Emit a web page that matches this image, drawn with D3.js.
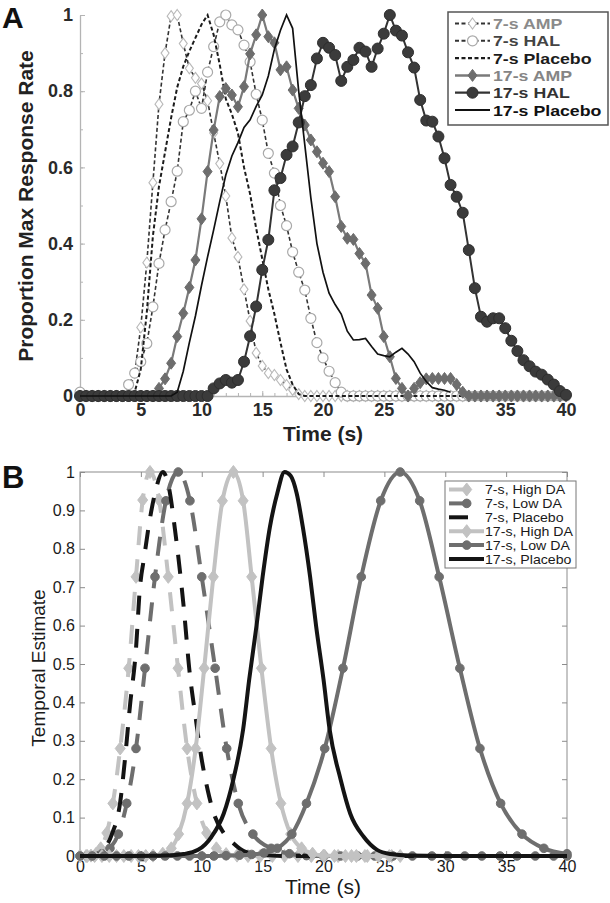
<!DOCTYPE html>
<html>
<head>
<meta charset="utf-8">
<script src="https://cdn.jsdelivr.net/npm/d3@7"></script>
<style>
body { margin: 0; background: #fff; }
</style>
</head>
<body>
<script>
// ---- panel A: observed data, 0.5-s bins ----
var binsA = d3.range(0, 40.5, 0.5);

var amp7A = [0,0,0,0,0,0,0,0,
    0.01,0.06,0.18,0.35,0.56,0.766,0.90,0.997,1.0,0.925,0.86,0.835,0.82,0.775,0.69,0.61,0.525,0.415,0.365,0.28,0.197,0.113,0.079,0.06,0.055,0.042,0.029,0.016,0.005,
    0,0,0,0,0,0,0,0,0,0,0,0,0,0,0,0,0,0,0,0,0,0,0,0,0,0,0,0,0,0,0,0,0,0,0,0,0,0,0,0,0,0,0,0];

var hal7A = [0.01,0,0,0,0,0,0,0,
    0.03,0.06,0.09,0.138,0.234,0.348,0.436,0.51,0.59,0.72,0.75,0.80,0.755,0.85,0.917,0.982,1.0,0.974,0.961,0.921,0.877,0.792,0.724,0.637,0.585,0.50,0.447,0.378,0.325,0.278,0.204,0.14,0.10,0.065,0.035,0.01,
    0,0,0,0,0,0,0,0,0,0,0,0,0,0,0,0,0,0,0,0,0,0,0,0,0,0,0,0,0,0,0,0,0,0,0,0,0];

var plc7A = [0,0,0,0,0,0,0,0,
    0,0.01,0.07,0.22,0.42,0.55,0.64,0.73,0.81,0.865,0.905,0.94,0.975,1.0,0.948,0.87,0.78,0.74,0.69,0.6,0.53,0.44,0.36,0.28,0.215,0.14,0.07,0.03,0.005,
    0,0,0,0,0,0,0,0,0,0,0,0,0,0,0,0,0,0,0,0,0,0,0,0,0,0,0,0,0,0,0,0,0,0,0,0,0,0,0,0,0,0,0,0];

var amp17A = [0,0,0,0,0,0,0,0,0,0,0,0,0,
    0.02,0.045,0.086,0.156,0.217,0.285,0.357,0.465,0.589,0.698,0.786,0.807,0.79,0.759,0.812,0.898,0.948,1.0,0.943,0.927,0.856,0.864,0.803,0.755,
    0.711,0.672,0.641,0.611,0.589,0.523,0.445,0.414,0.411,0.374,0.348,0.265,0.23,0.156,0.103,0.046,0.02,0.0,0.02,0.035,0.045,0.046,0.046,0.046,0.046,0.03,0.01,
    0,0,0,0,0,0,0,0,0,0,0,0,0,0,0,0,0];

var hal17A = [0,0,0,0,0,0,0,0,0,0,0,0,0,0,0,0,0,0,0,0,0,0,
    0.02,0.033,0.042,0.035,0.042,0.09,0.157,0.235,0.331,0.41,0.54,0.572,0.633,0.655,0.718,0.787,0.816,0.886,0.927,0.914,0.895,0.827,0.864,0.882,0.914,0.904,0.864,0.912,0.951,1.0,
    0.959,0.946,0.902,0.862,0.777,0.723,0.72,0.681,0.624,0.554,0.523,0.481,0.383,0.283,0.208,0.195,0.204,0.204,0.178,0.145,0.118,0.094,0.078,0.064,0.056,0.043,0.03,0.013,0.003];

var plc17A = [0,0,0,0,0,0,0,0,0,0,0,0,0,0,0,0,
    0.01,0.065,0.14,0.21,0.29,0.365,0.436,0.51,0.58,0.63,0.665,0.705,0.725,0.76,0.79,0.84,0.91,0.96,1.0,0.965,0.80,0.66,0.52,0.40,0.325,0.27,0.24,0.215,0.17,0.147,0.148,0.151,0.13,0.11,0.106,0.103,0.115,0.125,0.11,0.09,0.06,0.038,0.022,0.018,0.015,0.01,
    null,null,null,null,null,null,null,null,null,null,null,null,null,null,null,null,null,null,null];

var namesA = ["7-s AMP", "7-s HAL", "7-s Placebo", "17-s AMP", "17-s HAL", "17-s Placebo"];
var ticksA_y = [0, 0.2, 0.4, 0.6, 0.8, 1];
var ticksA_x = [0, 5, 10, 15, 20, 25, 30, 35, 40];

// ---- panel B: model estimates, [time, value] ----
var hi7B = [[0,0],[0.5,0],[0.9,0.001],[1.3,0.005],[1.7,0.02],[2.2,0.06],[2.7,0.137],[3.3,0.28],[4.0,0.489],[4.6,0.727],[5.15,0.927],[5.75,1],
    [6.5,0.927],[7.25,0.727],[8.05,0.489],[8.8,0.28],[9.6,0.137],[10.4,0.06],[11.2,0.02],[12.0,0.005],[12.9,0.001],[13.8,0],[14.8,0],[15.8,0],
    [16.8,0],[17.9,0],[19.0,0],[20.1,0],[21.2,0],[22.3,0],[23.4,0],[24.5,0],[25.6,0]];
var lo7B = [[0,0],[0.6,0],[1.2,0.001],[1.8,0.006],[2.46,0.02],[3.15,0.057],[3.84,0.137],[4.6,0.28],[5.34,0.489],[6.16,0.727],[7.06,0.925],[8.07,1],
    [9.03,0.925],[10.0,0.727],[11.1,0.489],[12.05,0.28],[13.0,0.137],[14.2,0.057],[15.7,0.02],[17.2,0.006],[18.6,0.001],[20.0,0],[21.4,0],[22.8,0],
    [24.2,0],[25.7,0],[27.3,0],[28.9,0],[30.2,0],[31.6,0],[33.0,0],[34.5,0],[35.9,0],[37.4,0],[38.9,0],[40,0]];
var plc7B = [[0,0],[1,0.002],[1.6,0.01],[2.6,0.055],[3.3,0.14],[3.7,0.254],[4.1,0.39],[4.6,0.54],[4.9,0.69],[5.3,0.784],[5.7,0.87],[6.2,0.95],[6.8,1.0],
    [7.3,0.96],[7.8,0.85],[8.5,0.654],[9.0,0.48],[9.5,0.36],[9.9,0.27],[10.5,0.17],[11.0,0.11],[11.8,0.06],[12.6,0.033],[13.5,0.012],[15,0.003],[17,0],[40,0]];
var hi17B = [[0,0],[0.6,0],[1.2,0],[1.8,0],[2.4,0],[3.0,0],[3.6,0],[4.2,0],[4.8,0],[5.4,0],[6.0,0.001],[6.8,0.006],[7.5,0.02],[8.1,0.057],[8.8,0.137],
    [9.5,0.28],[10.2,0.489],[10.95,0.727],[11.7,0.925],[12.6,1],[13.4,0.925],[14.1,0.727],[14.9,0.489],[15.7,0.28],[16.5,0.137],[17.3,0.057],[18.2,0.02],
    [19.1,0.006],[20.0,0.001],[20.9,0],[21.8,0],[22.7,0],[23.6,0],[24.5,0],[25.4,0],[26.3,0]];
var lo17B = [[0,0],[1,0],[2,0],[3,0],[4,0],[5,0],[6,0],[7,0],[8,0],[9,0],[10,0],[11,0],[12,0.001],[13.1,0.002],[14.1,0.004],[15.1,0.008],[16.2,0.02],
    [17.4,0.057],[18.6,0.137],[20.1,0.28],[21.6,0.489],[23.1,0.727],[24.7,0.925],[26.3,1],[27.9,0.925],[29.5,0.727],[31.2,0.489],[32.85,0.28],[34.55,0.137],
    [36.3,0.057],[38.1,0.02],[40,0.006]];
var plc17B = [[0,0],[4,0],[6,0.0005],[7,0.001],[8.5,0.005],[9.7,0.016],[10.8,0.05],[11.8,0.11],[12.6,0.2],[13.4,0.33],[13.9,0.46],[14.5,0.6],[15.0,0.727],
    [15.6,0.857],[16.2,0.944],[16.8,1],[17.3,0.99],[17.8,0.944],[18.3,0.857],[18.9,0.727],[19.4,0.597],[20.0,0.46],[20.5,0.33],[21.4,0.2],[22.2,0.11],
    [23.3,0.05],[24.4,0.016],[25.5,0.005],[27,0.001],[30,0],[40,0]];

var namesB = ["7-s, High DA", "7-s, Low DA", "7-s, Placebo", "17-s, High DA", "17-s, Low DA", "17-s, Placebo"];
var ticksB_y = [0, 0.1, 0.2, 0.3, 0.4, 0.5, 0.6, 0.7, 0.8, 0.9, 1];
var ticksB_x = [0, 5, 10, 15, 20, 25, 30, 35, 40];

var font = "'Liberation Sans', Arial, Helvetica, sans-serif";

var svg = d3.select("body").append("svg")
    .attr("width", 610)
    .attr("height", 903)
    .style("font-family", font);

function diamond(w, h) {
    return "M0," + (-h) + "L" + w + ",0L0," + h + "L" + (-w) + ",0Z";
}

function drawMarkers(g, pts, s) {
    if (s.marker == "diamond") {
        g.selectAll(null).data(pts).enter().append("path")
            .attr("d", diamond(s.mw, s.mh))
            .attr("transform", function (d) { return "translate(" + d[0] + "," + d[1] + ")"; })
            .attr("fill", s.mfill)
            .attr("stroke", s.mstroke)
            .attr("stroke-width", s.msw);
    } else if (s.marker == "circle") {
        g.selectAll(null).data(pts).enter().append("circle")
            .attr("cx", function (d) { return d[0]; })
            .attr("cy", function (d) { return d[1]; })
            .attr("r", s.r)
            .attr("fill", s.mfill)
            .attr("stroke", s.mstroke)
            .attr("stroke-width", s.msw);
    }
}

// =================== PANEL A ===================
var xA = d3.scaleLinear().domain([0, 40]).range([80, 566]);
var yA = d3.scaleLinear().domain([0, 1]).range([396, 15]);

var gA = svg.append("g");

var axisCol = "#b4b4b4";

// minor ticks
gA.append("g").attr("transform", "translate(80,0)")
    .call(d3.axisLeft(yA).tickValues(d3.range(0, 1.01, 0.1)).tickSize(-3).tickFormat(""))
    .call(function (g) { g.selectAll("line").attr("stroke", axisCol); g.select(".domain").remove(); });
gA.append("g").attr("transform", "translate(0,396)")
    .call(d3.axisBottom(xA).tickValues(d3.range(0, 41, 1)).tickSize(-3).tickFormat(""))
    .call(function (g) { g.selectAll("line").attr("stroke", axisCol); g.select(".domain").remove(); });

gA.append("g").attr("transform", "translate(80,0)")
    .call(d3.axisLeft(yA).tickValues(ticksA_y).tickSizeInner(-5).tickSizeOuter(0).tickPadding(7)
        .tickFormat(function (d) { return d; }))
    .call(function (g) {
        g.select(".domain").attr("stroke", axisCol).attr("stroke-width", 1.3);
        g.selectAll("line").attr("stroke", axisCol);
        g.selectAll("text").attr("font-family", font).attr("font-size", 18).attr("font-weight", "bold").attr("fill", "#2a2a2a");
    });

gA.append("g").attr("transform", "translate(0,396)")
    .call(d3.axisBottom(xA).tickValues(ticksA_x).tickSizeInner(-5).tickSizeOuter(0).tickPadding(7))
    .call(function (g) {
        g.select(".domain").attr("stroke", axisCol).attr("stroke-width", 1.3);
        g.selectAll("line").attr("stroke", axisCol);
        g.selectAll("text").attr("font-family", font).attr("font-size", 18).attr("font-weight", "bold").attr("fill", "#2a2a2a");
    });

var stylesA = [
    { vals: amp7A, color: "#333", width: 1.6, dash: "4,2.5", marker: "diamond", mw: 4, mh: 5.5, mfill: "#fff", mstroke: "#b9b9b9", msw: 1.1, text: "#8a8a8a" },
    { vals: hal7A, color: "#333", width: 1.6, dash: "4,2.5", marker: "circle", r: 5, mfill: "#fff", mstroke: "#a9a9a9", msw: 1.2, text: "#444" },
    { vals: plc7A, color: "#1c1c1c", width: 2, dash: "4,2.5", marker: null, text: "#1c1c1c" },
    { vals: amp17A, color: "#7a7a7a", width: 2.2, dash: null, marker: "diamond", mw: 4.5, mh: 6, mfill: "#6d6d6d", mstroke: "#6d6d6d", msw: 1, text: "#858585" },
    { vals: hal17A, color: "#333", width: 2, dash: null, marker: "circle", r: 5.5, mfill: "#3b3b3b", mstroke: "#2e2e2e", msw: 1, text: "#333" },
    { vals: plc17A, color: "#111", width: 1.7, dash: null, marker: null, text: "#111" }
];

var lineA = d3.line()
    .defined(function (d) { return d[1] != null; })
    .x(function (d) { return xA(d[0]); })
    .y(function (d) { return yA(d[1]); });

stylesA.forEach(function (s) {
    var data = binsA.map(function (t, i) { return [t, s.vals[i]]; });
    var g = gA.append("g");
    g.append("path")
        .datum(data)
        .attr("d", lineA)
        .attr("fill", "none")
        .attr("stroke", s.color)
        .attr("stroke-width", s.width)
        .attr("stroke-dasharray", s.dash);
    var pts = data.filter(function (d) { return d[1] != null; })
        .map(function (d) { return [xA(d[0]), yA(d[1])]; });
    drawMarkers(g, pts, s);
});

// labels
svg.append("text").text("A")
    .attr("x", 2).attr("y", 28)
    .attr("font-size", 30).attr("font-weight", "bold").attr("fill", "#111");

svg.append("text").text("Time (s)")
    .attr("x", 323).attr("y", 441)
    .attr("text-anchor", "middle")
    .attr("font-size", 21).attr("font-weight", "bold").attr("fill", "#222");

svg.append("text").text("Proportion Max Response Rate")
    .attr("transform", "translate(33,206) rotate(-90)")
    .attr("text-anchor", "middle")
    .attr("font-size", 21).attr("font-weight", "bold").attr("fill", "#222");

// legend A (text is slightly wide in the original, hence the x stretch)
var legA = svg.append("g");
legA.append("rect")
    .attr("x", 448).attr("y", 12).attr("width", 160).attr("height", 113)
    .attr("fill", "#fff").attr("stroke", "#555").attr("stroke-width", 1.5);

var legYA = [23.5, 40.8, 58.1, 75.4, 92.7, 110];
stylesA.forEach(function (s, i) {
    var y = legYA[i];
    var g = legA.append("g");
    g.append("line")
        .attr("x1", 455).attr("x2", 490).attr("y1", y).attr("y2", y)
        .attr("stroke", s.color).attr("stroke-width", s.width + 0.3)
        .attr("stroke-dasharray", s.dash);
    drawMarkers(g, [[472.5, y]], s);
    legA.append("g")
        .attr("transform", "translate(493," + (y + 5.5) + ") scale(1.16,1)")
        .append("text").text(namesA[i])
        .attr("font-size", 15.3).attr("font-weight", "bold").attr("fill", s.text);
});

// =================== PANEL B ===================
var xB = d3.scaleLinear().domain([0, 40]).range([80, 567]);
var yB = d3.scaleLinear().domain([0, 1]).range([856, 472]);

var gB = svg.append("g");
var boxCol = "#8c8c8c";

gB.append("rect")
    .attr("x", 80).attr("y", 472).attr("width", 487).attr("height", 384)
    .attr("fill", "none").attr("stroke", boxCol).attr("stroke-width", 1);

function styleB(g, labels) {
    g.select(".domain").remove();
    g.selectAll("line").attr("stroke", boxCol);
    g.selectAll("text").attr("font-family", font).attr("font-size", 16).attr("fill", "#1a1a1a");
    if (!labels) g.selectAll("text").remove();
}

gB.append("g").attr("transform", "translate(80,0)")
    .call(d3.axisLeft(yB).tickValues(ticksB_y).tickSize(-5).tickPadding(5).tickFormat(function (d) { return d; }))
    .call(function (g) { styleB(g, true); });
gB.append("g").attr("transform", "translate(567,0)")
    .call(d3.axisRight(yB).tickValues(ticksB_y).tickSize(-5))
    .call(function (g) { styleB(g, false); });
gB.append("g").attr("transform", "translate(0,856)")
    .call(d3.axisBottom(xB).tickValues(ticksB_x).tickSize(-5).tickPadding(5))
    .call(function (g) { styleB(g, true); });
gB.append("g").attr("transform", "translate(0,472)")
    .call(d3.axisTop(xB).tickValues(ticksB_x).tickSize(-5))
    .call(function (g) { styleB(g, false); });

var hiCol = "#c2c2c2", loCol = "#6e6e6e", plCol = "#141414";

var stylesB = [
    { data: hi7B, color: hiCol, dash: "19,14", marker: "diamond", mw: 5, mh: 6.5, mfill: hiCol, mstroke: hiCol, msw: 1 },
    { data: lo7B, color: loCol, dash: "19,14", marker: "circle", r: 4.3, mfill: loCol, mstroke: loCol, msw: 1 },
    { data: plc7B, color: plCol, dash: "19,14", marker: null },
    { data: hi17B, color: hiCol, dash: null, marker: "diamond", mw: 5, mh: 6.5, mfill: hiCol, mstroke: hiCol, msw: 1 },
    { data: lo17B, color: loCol, dash: null, marker: "circle", r: 4.3, mfill: loCol, mstroke: loCol, msw: 1 },
    { data: plc17B, color: plCol, dash: null, marker: null }
];

var lineB = d3.line()
    .curve(d3.curveMonotoneX)
    .x(function (d) { return xB(d[0]); })
    .y(function (d) { return yB(d[1]); });

stylesB.forEach(function (s) {
    var g = gB.append("g");
    g.append("path")
        .datum(s.data)
        .attr("d", lineB)
        .attr("fill", "none")
        .attr("stroke", s.color)
        .attr("stroke-width", 4)
        .attr("stroke-dasharray", s.dash);
    var pts = s.data.map(function (d) { return [xB(d[0]), yB(d[1])]; });
    drawMarkers(g, pts, s);
});

svg.append("text").text("B")
    .attr("x", 2).attr("y", 488)
    .attr("font-size", 31).attr("font-weight", "bold").attr("fill", "#111");

svg.append("text").text("Time (s)")
    .attr("x", 323).attr("y", 894)
    .attr("text-anchor", "middle")
    .attr("font-size", 21).attr("fill", "#1a1a1a");

svg.append("text").text("Temporal Estimate")
    .attr("transform", "translate(45,668) rotate(-90)")
    .attr("text-anchor", "middle")
    .attr("font-size", 19).attr("fill", "#1a1a1a");

// legend B
var legB = svg.append("g");
legB.append("rect")
    .attr("x", 445).attr("y", 481).attr("width", 131).attr("height", 87)
    .attr("fill", "#fff").attr("stroke", "#777").attr("stroke-width", 1);

var legYB = [489.5, 503.4, 517.3, 531.2, 545.1, 559];
stylesB.forEach(function (s, i) {
    var y = legYB[i];
    var g = legB.append("g");
    // dashed entries only show their first dash
    g.append("line")
        .attr("x1", 449).attr("x2", s.dash ? 468 : 484).attr("y1", y).attr("y2", y)
        .attr("stroke", s.color).attr("stroke-width", 4);
    drawMarkers(g, [[466.7, y]], s);
    legB.append("g")
        .attr("transform", "translate(485," + (y + 4.5) + ") scale(1.15,1)")
        .append("text").text(namesB[i])
        .attr("font-size", 12.3).attr("fill", "#1a1a1a");
});
</script>
</body>
</html>
